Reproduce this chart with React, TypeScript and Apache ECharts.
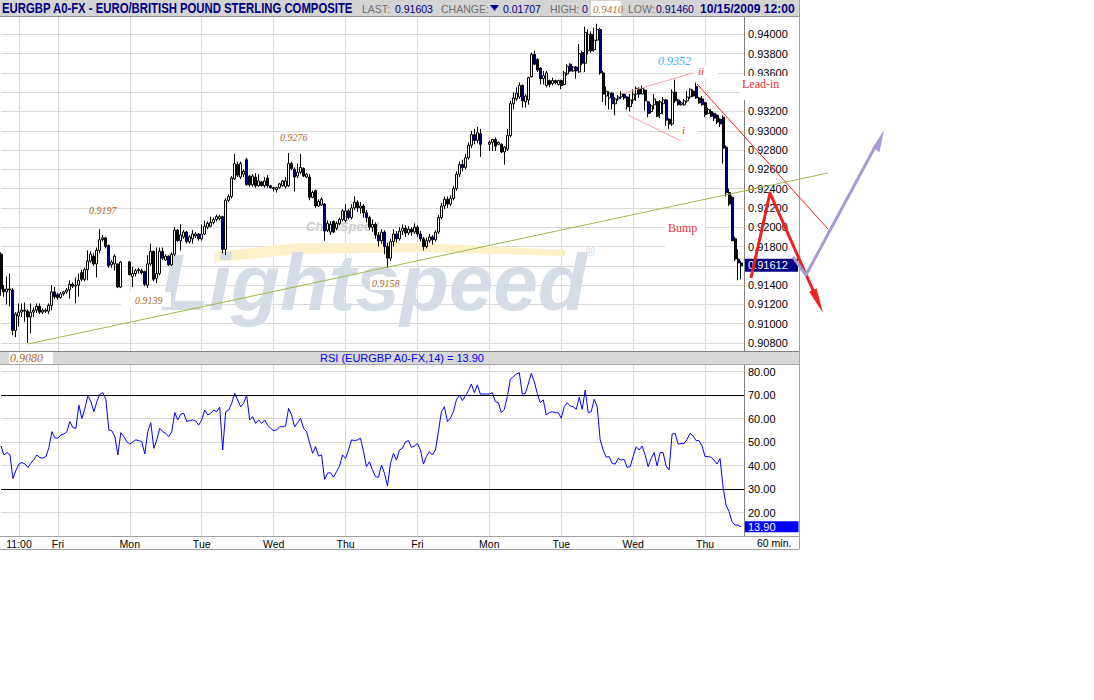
import React, { useEffect, useRef } from 'react';
import * as echarts from 'echarts';

// ---------- data (hourly bars) ----------
const openP = [
 0.9172,0.9136,0.9133,0.9136,0.9135,0.9093,0.9108,0.9112,0.9114,0.9113,
 0.9107,0.9112,0.9114,0.9118,0.9112,0.9114,0.9113,0.9119,0.9133,0.9130,
 0.9127,0.9131,0.9133,0.9135,0.9141,0.9139,0.9140,0.9153,0.9146,0.9156,
 0.9165,0.9170,0.9162,0.9176,0.9187,0.9189,0.9181,0.9161,0.9162,0.9162,
 0.9138,null,null,0.9164,0.9149,0.9152,0.9155,0.9155,0.9154,0.9140,
 0.9162,0.9175,0.9147,0.9152,0.9175,0.9166,0.9170,0.9161,0.9172,0.9197,
 0.9186,0.9190,0.9195,0.9185,0.9188,0.9191,0.9193,0.9188,0.9193,0.9200,
 0.9201,0.9205,0.9208,0.9209,0.9211,0.9177,0.9228,0.9232,0.9250,0.9265,
 0.9252,0.9255,0.9270,0.9253,0.9244,0.9252,0.9243,0.9247,0.9243,0.9251,
 0.9243,0.9241,0.9239,0.9241,0.9243,0.9242,0.9243,0.9266,0.9260,0.9253,
 0.9257,0.9261,0.9252,0.9252,0.9231,0.9238,0.9222,0.9223,0.9224,0.9197,
 0.9195,0.9206,0.9199,0.9204,0.9208,0.9207,0.9217,0.9210,0.9220,0.9226,
 0.9220,0.9222,0.9215,0.9210,0.9200,0.9203,0.9192,0.9186,0.9195,0.9180,
 0.9168,0.9185,0.9193,0.9188,0.9196,0.9199,0.9194,0.9198,0.9195,0.9200,
 0.9193,0.9188,0.9180,0.9186,0.9190,0.9187,0.9195,0.9210,0.9222,0.9229,
 0.9224,0.9230,0.9240,0.9255,0.9265,0.9262,0.9272,0.9285,0.9296,0.9290,
 0.9297,null,null,0.9286,0.9288,0.9291,0.9286,0.9286,0.9278,0.9281,
 0.9295,0.9328,0.9333,0.9335,0.9347,0.9330,0.9332,0.9356,0.9379,0.9374,
 0.9365,0.9354,0.9347,0.9352,0.9349,0.9352,0.9348,0.9352,0.9348,0.9359,
 0.9369,0.9362,0.9366,0.9361,0.9381,0.9370,0.9383,0.9400,0.9384,0.9394,
 0.9405,0.9360,0.9336,0.9334,0.9339,0.9328,0.9333,0.9335,0.9338,0.9335,
 0.9325,0.9332,0.9338,0.9344,0.9338,0.9342,0.9330,0.9320,0.9327,0.9330,
 0.9318,0.9328,0.9332,0.9312,0.9307,0.9340,0.9332,0.9327,0.9327,0.9331,
 0.9335,0.9341,0.9346,0.9334,0.9333,0.9329,0.9318,0.9320,0.9318,0.9316,
 0.9312,0.9314,0.9283,0.9236,0.9231,0.9188,0.9167,0.9163];

const closeP = [
 0.9136,0.9133,0.9136,0.9135,0.9093,0.9110,0.9112,0.9114,0.9113,0.9107,
 0.9112,0.9114,0.9118,0.9112,0.9114,0.9113,0.9119,0.9133,0.9128,0.9127,
 0.9131,0.9133,0.9135,0.9141,0.9139,0.9140,0.9145,0.9146,0.9156,0.9165,
 0.9172,0.9162,0.9176,0.9187,0.9189,0.9180,0.9160,0.9164,0.9170,0.9138,
 0.9164,null,null,0.9151,0.9152,0.9155,0.9156,0.9153,0.9141,0.9162,
 0.9175,0.9146,0.9152,0.9175,0.9168,0.9170,0.9161,0.9172,0.9197,0.9186,
 0.9192,0.9195,0.9185,0.9190,0.9193,0.9193,0.9188,0.9193,0.9201,0.9204,
 0.9205,0.9208,0.9211,0.9211,0.9177,0.9228,0.9232,0.9251,0.9266,0.9254,
 0.9266,0.9258,0.9244,0.9244,0.9253,0.9243,0.9248,0.9243,0.9248,0.9243,
 0.9241,0.9240,0.9241,0.9245,0.9248,0.9248,0.9266,0.9261,0.9252,0.9257,
 0.9262,0.9253,0.9255,0.9231,0.9236,0.9222,0.9227,0.9229,0.9196,0.9204,
 0.9203,0.9195,0.9204,0.9208,0.9217,0.9217,0.9210,0.9220,0.9226,0.9220,
 0.9222,0.9215,0.9210,0.9200,0.9203,0.9192,0.9186,0.9195,0.9180,0.9168,
 0.9185,0.9193,0.9188,0.9196,0.9199,0.9194,0.9198,0.9195,0.9200,0.9193,
 0.9188,0.9180,0.9186,0.9190,0.9187,0.9195,0.9210,0.9222,0.9229,0.9224,
 0.9230,0.9240,0.9255,0.9265,0.9262,0.9272,0.9285,0.9296,0.9290,0.9298,
 0.9286,null,null,0.9288,0.9291,0.9284,0.9288,0.9278,0.9283,0.9295,
 0.9328,0.9334,0.9339,0.9347,0.9331,0.9336,0.9355,0.9379,0.9369,0.9363,
 0.9354,0.9357,0.9360,0.9348,0.9352,0.9350,0.9352,0.9347,0.9360,0.9367,
 0.9362,0.9366,0.9362,0.9380,0.9370,0.9402,0.9400,0.9383,0.9394,0.9405,
 0.9360,0.9338,0.9341,0.9339,0.9328,0.9333,0.9335,0.9338,0.9334,0.9325,
 0.9332,0.9338,0.9344,0.9338,0.9344,0.9331,0.9318,0.9326,0.9333,0.9315,
 0.9330,0.9332,0.9311,0.9307,0.9340,0.9331,0.9327,0.9329,0.9331,0.9335,
 0.9343,0.9336,0.9334,0.9329,0.9327,0.9317,0.9322,0.9315,0.9313,0.9309,
 0.9307,0.9282,0.9236,0.9224,0.9186,0.9167,0.9163,0.9160];

const highP = [
 0.9174,0.9140,0.9149,0.9152,0.9137,0.9112,0.9121,0.9121,0.9122,0.9115,
 0.9121,0.9117,0.9121,0.9121,0.9116,0.9116,0.9121,0.9140,0.9138,0.9132,
 0.9133,0.9134,0.9137,0.9145,0.9143,0.9148,0.9152,0.9156,0.9158,0.9176,
 0.9175,0.9173,0.9179,0.9198,0.9192,0.9190,0.9182,0.9166,0.9172,0.9162,
 0.9165,null,null,0.9165,0.9159,0.9157,0.9158,0.9157,0.9155,0.9171,
 0.9183,0.9176,0.9179,0.9179,0.9179,0.9172,0.9171,0.9174,0.9200,0.9198,
 0.9203,0.9197,0.9196,0.9192,0.9197,0.9195,0.9194,0.9203,0.9207,0.9206,
 0.9211,0.9210,0.9213,0.9213,0.9212,0.9230,0.9234,0.9253,0.9276,0.9268,
 0.9268,0.9260,0.9272,0.9254,0.9255,0.9256,0.9255,0.9248,0.9252,0.9254,
 0.9244,0.9242,0.9242,0.9246,0.9249,0.9252,0.9277,0.9268,0.9262,0.9266,
 0.9276,0.9262,0.9256,0.9255,0.9238,0.9239,0.9229,0.9231,0.9225,0.9207,
 0.9206,0.9207,0.9206,0.9210,0.9219,0.9224,0.9219,0.9224,0.9232,0.9228,
 0.9226,0.9224,0.9218,0.9212,0.9208,0.9205,0.9195,0.9198,0.9197,0.9184,
 0.9188,0.9198,0.9196,0.9200,0.9203,0.9202,0.9201,0.9200,0.9204,0.9202,
 0.9196,0.9190,0.9189,0.9193,0.9192,0.9197,0.9213,0.9225,0.9232,0.9232,
 0.9233,0.9243,0.9258,0.9268,0.9270,0.9276,0.9288,0.9300,0.9302,0.9304,
 0.9302,null,null,0.9290,0.9291,0.9293,0.9289,0.9287,0.9284,0.9302,
 0.9331,0.9340,0.9345,0.9350,0.9348,0.9338,0.9356,0.9381,0.9383,0.9375,
 0.9366,0.9362,0.9362,0.9353,0.9355,0.9353,0.9353,0.9353,0.9362,0.9369,
 0.9370,0.9367,0.9367,0.9390,0.9383,0.9408,0.9405,0.9403,0.9407,0.9411,
 0.9407,0.9362,0.9346,0.9341,0.9340,0.9335,0.9337,0.9341,0.9339,0.9336,
 0.9338,0.9343,0.9346,0.9345,0.9347,0.9343,0.9331,0.9328,0.9338,0.9331,
 0.9332,0.9335,0.9333,0.9313,0.9343,0.9353,0.9333,0.9331,0.9333,0.9341,
 0.9344,0.9343,0.9350,0.9335,0.9336,0.9330,0.9324,0.9322,0.9319,0.9317,
 0.9313,0.9316,0.9285,0.9240,0.9233,0.9190,0.9177,0.9165];

const lowP = [
 0.9129,0.9128,0.9120,0.9118,0.9088,0.9086,0.9097,0.9107,0.9102,0.9080,
 0.9090,0.9107,0.9111,0.9110,0.9110,0.9111,0.9110,0.9114,0.9126,0.9125,
 0.9126,0.9129,0.9131,0.9126,0.9137,0.9121,0.9128,0.9144,0.9144,0.9145,
 0.9163,0.9160,0.9148,0.9173,0.9185,0.9178,0.9158,0.9158,0.9155,0.9137,
 0.9137,null,null,0.9150,0.9138,0.9149,0.9152,0.9151,0.9139,0.9137,
 0.9160,0.9144,0.9142,0.9150,0.9166,0.9165,0.9160,0.9160,0.9170,0.9185,
 0.9176,0.9188,0.9183,0.9183,0.9183,0.9189,0.9186,0.9186,0.9192,0.9198,
 0.9200,0.9203,0.9206,0.9207,0.9173,0.9171,0.9226,0.9230,0.9249,0.9252,
 0.9250,0.9252,0.9243,0.9242,0.9242,0.9241,0.9242,0.9242,0.9241,0.9241,
 0.9240,0.9237,0.9236,0.9240,0.9242,0.9240,0.9242,0.9259,0.9237,0.9251,
 0.9255,0.9252,0.9251,0.9228,0.9230,0.9220,0.9221,0.9222,0.9186,0.9195,
 0.9192,0.9194,0.9197,0.9202,0.9206,0.9205,0.9208,0.9208,0.9218,0.9216,
 0.9214,0.9210,0.9205,0.9197,0.9195,0.9188,0.9180,0.9183,0.9172,0.9158,
 0.9165,0.9180,0.9184,0.9186,0.9192,0.9190,0.9192,0.9191,0.9193,0.9190,
 0.9185,0.9176,0.9178,0.9184,0.9182,0.9185,0.9193,0.9208,0.9219,0.9220,
 0.9222,0.9228,0.9238,0.9252,0.9258,0.9260,0.9270,0.9282,0.9286,0.9287,
 0.9273,null,null,0.9279,0.9279,0.9279,0.9285,0.9277,0.9265,0.9279,
 0.9293,0.9322,0.9331,0.9333,0.9324,0.9324,0.9327,0.9355,0.9368,0.9361,
 0.9348,0.9348,0.9345,0.9345,0.9347,0.9348,0.9347,0.9343,0.9347,0.9357,
 0.9361,0.9361,0.9354,0.9360,0.9368,0.9361,0.9379,0.9381,0.9382,0.9393,
 0.9358,0.9330,0.9326,0.9322,0.9322,0.9316,0.9331,0.9333,0.9332,0.9322,
 0.9320,0.9328,0.9331,0.9334,0.9338,0.9321,0.9314,0.9318,0.9322,0.9314,
 0.9313,0.9317,0.9305,0.9302,0.9305,0.9329,0.9326,0.9326,0.9326,0.9329,
 0.9333,0.9335,0.9333,0.9328,0.9326,0.9314,0.9317,0.9314,0.9310,0.9307,
 0.9304,0.9266,0.9232,0.9222,0.9186,0.9165,0.9145,0.9146];

const rsiValues = [
 48.3,44.5,45.5,44.5,34.5,38,40.6,41.3,40.6,39.2,
 41,42.6,44.5,43.3,43.2,43.8,47.7,54.4,51.8,51.6,
 53,53.4,54.4,58.7,56.1,55.8,65.7,60,64.3,69.7,
 67.2,62.9,67.2,70.3,71,68.2,55.1,54.8,52.3,44.5,
 54,52.3,50.1,49.1,50.1,50.9,50.6,50.1,44.9,54.4,
 58.2,47.3,50.9,55.8,54.4,53.7,52.3,54.4,62.5,59.4,
 61.9,62.2,58.7,59.1,59.4,58.9,57.2,59.4,63.6,61.5,
 62.2,63.6,62.9,64.8,46.6,62.9,63.6,66.5,70.7,67.9,
 65,66.5,70,59.4,60.8,57.9,59.4,57.9,59.4,57.2,
 55.8,54.8,55.1,56.5,56.5,56.8,64.3,61.5,56.5,58.2,
 60.1,55.8,54.4,49.7,45.2,48,44,44.5,34.1,36.7,
 37,35,37.4,39.8,44.5,43,46.6,50.9,50.6,50.9,
 51.6,45.9,39.5,41.6,38.1,35.2,35,40.2,36.7,31.3,
 40.9,45.2,42.3,46.6,47.3,50.1,50.6,47.7,48.3,49.4,
 46.6,40.6,43.8,45.9,44.5,46.6,54.4,62.9,65,58.7,
 60.1,62.9,67.9,70,67.6,69.6,71.8,74.7,71,74.3,
 70.4,70.4,70.4,70.4,71,67.2,66.7,62.5,63.9,69.3,
 76.7,77.8,78.9,79.5,70.4,70.7,74.7,79.2,75.7,70.7,
 66.7,67.9,61.5,62.5,62.9,62.5,62.5,60.1,65,66.7,
 65.3,65,63.9,69,63.9,72.1,62.5,62.9,68.2,65,
 50.9,46.6,43.5,43.8,40.9,40.6,43,42.3,42.6,39.2,
 39.5,43.8,48,46.6,48.3,44.5,39.5,43,45.5,39.8,
 45.5,45.5,39.8,38.1,53.4,53.7,49.1,49.4,49.4,51.1,
 53.7,52.6,50.6,50.6,48.3,43.8,43.8,43.5,42.3,40.6,
 43,31,23.2,20.4,16.1,14.7,14.7,13.9];

const dayLabelIndex = [6, 19, 43, 67, 91, 115, 139, 163, 187, 211, 235];
const dayLabels = ['11:00', 'Fri', 'Mon', 'Tue', 'Wed', 'Thu', 'Fri', 'Mon', 'Tue', 'Wed', 'Thu'];
const priceAxis = { min: 0.906, max: 0.942, step: 0.002 };
// price tick labels that are hidden under the "Lead-in" note and the last-price box
const hiddenPriceLabels = ['0.93400', '0.91600'];
const rsiAxis = { min: 10, max: 85, step: 10 };
const rsiLevels = [70, 30];
const lastPrice = 0.91612;
const lastRsi = 13.9;

// ---------- helpers ----------
const SANS = 'Liberation Sans, Arial, sans-serif';
const SERIF = 'Liberation Serif, Times New Roman, serif';
const txt = (x: number, y: number, text: string, o: any = {}) => ({
  type: 'text', x, y, z: o.z ?? 100, scaleX: o.sx ?? 1, silent: true,
  style: {
    text, fill: o.fill ?? '#000', fontSize: o.size ?? 11, fontFamily: o.family ?? SANS,
    fontStyle: o.style ?? 'normal', fontWeight: o.weight ?? 'normal',
    align: o.align ?? 'left', verticalAlign: o.va ?? 'middle',
  },
});
const rect = (x: number, y: number, w: number, h: number, fill: string, z = 100) => ({
  type: 'rect', z, silent: true, shape: { x, y, width: w, height: h }, style: { fill },
});
const seg = (x1: number, y1: number, x2: number, y2: number, stroke: string, w = 1, z = 100) => ({
  type: 'line', z, silent: true, shape: { x1, y1, x2, y2 }, style: { stroke, lineWidth: w },
});
const poly = (pts: number[][], stroke: string, w: number, z = 100) => ({
  type: 'polyline', z, silent: true, shape: { points: pts }, style: { stroke, lineWidth: w, fill: null, lineJoin: 'round' },
});
const polygon = (pts: number[][], fill: string, z = 100) => ({
  type: 'polygon', z, silent: true, shape: { points: pts }, style: { fill },
});

export default function App() {
  const ref = useRef<HTMLDivElement>(null);
  useEffect(() => {
    if (!ref.current) return;
    const chart = echarts.init(ref.current, undefined, { renderer: 'svg' });
    const n = openP.length;
    const cats = Array.from({ length: n + 1 }, (_, i) => String(i));
    const labelAt = (i: number) => dayLabelIndex.indexOf(i);
    const candles = openP.map((o, i) =>
      o == null ? ['-', '-', '-', '-'] : [o, closeP[i], lowP[i], highP[i]]);
    const gridColor = '#d9d9d9';
    const showIdx = (idx: number) => labelAt(idx) >= 0;

    const baseX = {
      type: 'category', data: cats, boundaryGap: false,
      axisTick: { show: false },
      splitLine: { show: true, interval: (idx: number) => showIdx(idx), lineStyle: { color: gridColor, width: 1 } },
    };

    const graphic: any[] = [
      // watermark
      polygon([[215, 252], [300, 243], [420, 243], [565, 250], [565, 256], [420, 252], [300, 254], [215, 262]], '#fcf0c8', 1),
      txt(160, 282, 'Lightspeed', { size: 80, weight: 'bold', style: 'italic', fill: '#d5dce6', z: 1 }),
      txt(586, 252, '®', { size: 12, fill: '#d0d6e0', z: 1 }),
      txt(306, 226, 'ChartSpeed', { size: 13, weight: 'bold', style: 'italic', fill: '#cccccc', z: 1 }),

      // title bar
      rect(0, 0, 799, 16, '#d4d4d4'),
      seg(0, 16.5, 799, 16.5, '#909090'),
      txt(2, 8.5, 'EURGBP A0-FX - EURO/BRITISH POUND STERLING COMPOSITE', { size: 14, weight: 'bold', fill: '#000080', sx: 0.81 }),
      txt(362, 8.5, 'LAST:', { size: 10.5, fill: '#707070' }),
      txt(395, 8.5, '0.91603', { size: 10.5, fill: '#000080' }),
      txt(441, 8.5, 'CHANGE:', { size: 10.5, fill: '#707070' }),
      polygon([[490, 5], [499, 5], [494.5, 11]], '#000080'),
      txt(503, 8.5, '0.01707', { size: 10.5, fill: '#000080' }),
      txt(550, 8.5, 'HIGH:', { size: 10.5, fill: '#707070' }),
      txt(582, 8.5, '0', { size: 10.5, fill: '#000080' }),
      rect(591, 1, 30, 15, '#ffffff'),
      txt(593, 8.5, '0.9410', { size: 11, style: 'italic', fill: '#b8702e', family: SERIF }),
      txt(628, 8.5, 'LOW:', { size: 10.5, fill: '#707070' }),
      txt(656, 8.5, '0.91460', { size: 10.5, fill: '#000080' }),
      txt(700, 8.5, '10/15/2009 12:00', { size: 13, weight: 'bold', fill: '#000080', sx: 0.93 }),

      // RSI header bar
      rect(0, 352, 799, 12, '#d8d8d8'),
      seg(0, 351.5, 799, 351.5, '#808080'),
      seg(0, 364.5, 799, 364.5, '#a8a8a8'),
      txt(402, 358, 'RSI (EURGBP A0-FX,14) = 13.90', { size: 11, fill: '#0000ff', align: 'center' }),
      rect(9, 352, 44, 12, '#ffffff'),
      txt(10, 358, '0.9080', { size: 12, style: 'italic', fill: '#b0642a', family: SERIF }),

      // frame
      seg(0, 536.5, 799, 536.5, '#a0a0a0'),
      seg(0, 549.5, 799, 549.5, '#a0a0a0'),
      seg(799.5, 0, 799.5, 549.5, '#a0a0a0'),
      txt(757, 543, '60 min.', { size: 10.5 }),

      // price annotations
      txt(89, 210, '0.9197', { size: 10, style: 'italic', fill: '#b0642a', family: SERIF }),
      rect(121, 292, 50, 15, '#ffffff', 3),
      txt(135, 300, '0.9139', { size: 10, style: 'italic', fill: '#b0642a', family: SERIF }),
      txt(280, 137, '0.9276', { size: 10, style: 'italic', fill: '#b0642a', family: SERIF }),
      rect(370, 277, 32, 13, '#ffffff', 3),
      txt(372, 283, '0.9158', { size: 10, style: 'italic', fill: '#b0642a', family: SERIF }),
      txt(658, 61, '0.9352', { size: 12, style: 'italic', fill: '#33b5f0', family: SERIF }),

      // hand-drawn lines
      seg(28, 344, 828, 173, '#9cb84a', 1),
      seg(621, 94, 693, 73, '#ff9aaa', 1),
      seg(628, 115, 681, 141, '#ff9aaa', 1),
      seg(697, 84, 828, 229, '#ff2020', 1),
      rect(695, 66, 22, 12, '#ffffff'),
      txt(698, 71, 'ii', { size: 11, style: 'italic', fill: '#ff2020', family: SERIF }),
      rect(680, 124, 18, 12, '#ffffff'),
      txt(682, 130, 'i', { size: 11, style: 'italic', fill: '#ff2020', family: SERIF }),
      rect(740, 76, 58, 24, '#ffffff'),
      txt(742, 84, 'Lead-in', { size: 12, fill: '#ee3030', family: SERIF }),
      rect(665, 217, 40, 33, '#ffffff'),
      txt(668, 228, 'Bump', { size: 12, fill: '#ee3030', family: SERIF }),
    ];

    const option: any = {
      animation: false,
      backgroundColor: '#ffffff',
      grid: [
        { left: 1, top: 15, width: 743, height: 347.3 },
        { left: 1, top: 359.75, width: 743, height: 176.25 },
      ],
      xAxis: [
        { ...baseX, gridIndex: 0, axisLine: { show: false }, axisLabel: { show: false } },
        {
          ...baseX, gridIndex: 1,
          axisLine: { show: true, lineStyle: { color: '#a0a0a0' } },
          axisLabel: {
            show: true, interval: (idx: number) => showIdx(idx),
            formatter: (v: string) => { const k = labelAt(Number(v)); return k >= 0 ? dayLabels[k] : ''; },
            color: '#000', fontSize: 10.5, fontFamily: SANS, margin: 2,
          },
        },
      ],
      yAxis: [
        {
          gridIndex: 0, type: 'value', position: 'right', scale: true,
          min: priceAxis.min, max: priceAxis.max, interval: priceAxis.step,
          axisLine: { show: true, lineStyle: { color: '#808080' } },
          axisTick: { show: false },
          axisLabel: {
            formatter: (v: number) => { const s = v.toFixed(5); return hiddenPriceLabels.includes(s) ? '' : s; },
            color: '#000', fontSize: 11, fontFamily: SANS, margin: 4, showMinLabel: false, showMaxLabel: false,
          },
          splitLine: { show: true, lineStyle: { color: gridColor } },
        },
        {
          gridIndex: 1, type: 'value', position: 'right',
          min: rsiAxis.min, max: rsiAxis.max, interval: rsiAxis.step,
          axisLine: { show: true, lineStyle: { color: '#808080' } },
          axisTick: { show: false },
          axisLabel: { formatter: (v: number) => v.toFixed(2), color: '#000', fontSize: 11, fontFamily: SANS, margin: 4, showMinLabel: false, showMaxLabel: false },
          splitLine: { show: true, lineStyle: { color: gridColor } },
        },
      ],
      series: [
        {
          type: 'candlestick', xAxisIndex: 0, yAxisIndex: 0, data: candles, barWidth: 2.5,
          itemStyle: { color: '#ffffff', color0: '#000080', borderColor: '#000000', borderColor0: '#000000', borderWidth: 1 },
        },
        {
          type: 'line', xAxisIndex: 1, yAxisIndex: 1, data: rsiValues, showSymbol: false, symbol: 'none',
          lineStyle: { color: '#0000ff', width: 1 },
          markLine: {
            silent: true, symbol: ['none', 'none'], animation: false,
            data: [
              ...rsiLevels.map(v => ({ yAxis: v, lineStyle: { color: '#000', width: 1, type: 'solid' }, label: { show: false } })),
              {
                yAxis: lastRsi, lineStyle: { color: 'rgba(0,0,0,0)', width: 1 },
                label: {
                  show: true, position: 'end', distance: 1, formatter: lastRsi.toFixed(2),
                  backgroundColor: '#0000ff', color: '#ffffff', fontSize: 11, fontFamily: SANS, padding: [0, 23, 0, 3],
                },
              },
            ],
          },
        },
      ],
      graphic,
    };
    chart.setOption(option);

    // last-price box on the price axis, placed through the axis scale
    const py = chart.convertToPixel({ yAxisIndex: 0 }, lastPrice) as number;
    graphic.push(
      rect(745, py - 6, 53, 13, '#000080', 110),
      txt(748, py + 0.5, lastPrice.toFixed(5), { size: 11, fill: '#ffffff', z: 111 }),
      poly([[751, 278], [770, 193], [816, 297]], '#ee2020', 3, 120),
      polygon([[823, 313], [816.6, 288.5], [809.2, 291.7]], '#ee2020', 120),
      poly([[793, 257], [806, 275], [876, 145]], '#a99bd2', 3, 120),
      polygon([[884, 130], [879.5, 152], [872.5, 148]], '#a99bd2', 120),
    );
    chart.setOption({ ...option, graphic }, true);
    return () => chart.dispose();
  }, []);
  return <div ref={ref} style={{ position: 'absolute', left: 0, top: 0, width: 1094, height: 700, background: '#fff' }} />;
}
